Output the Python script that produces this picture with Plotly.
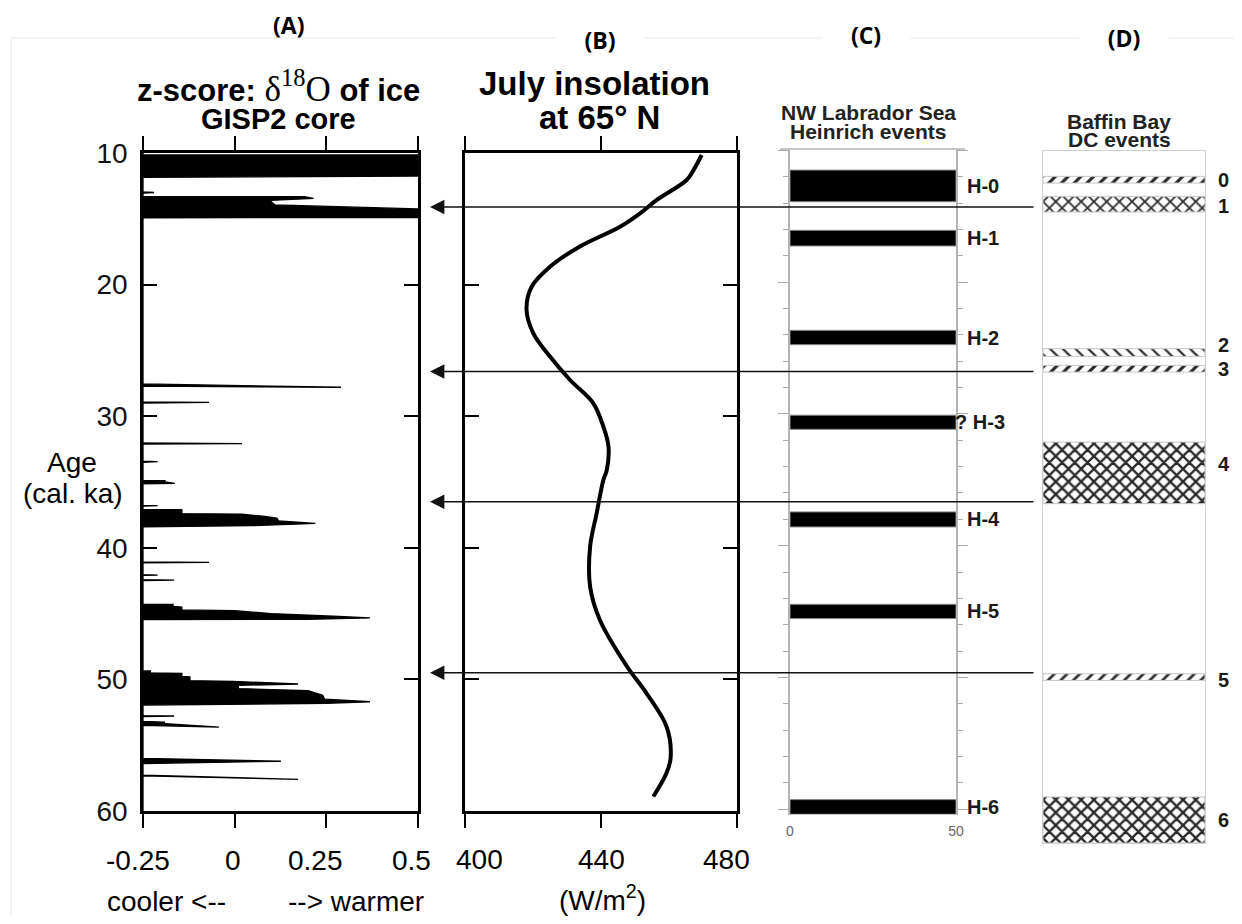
import plotly.graph_objects as go

# page offset of the plot div (browser body margin) is compensated below
OFF = 8
FW, FH = 1242 - 2 * OFF, 924 - 2 * OFF

# ---------------- data ----------------
# (A) GISP2 d18O z-score profile: age (cal. ka) vs z-score, baseline -0.25
gisp_age = [10.0, 10.15, 10.15, 11.75, 11.85,
            12.95, 13.0, 13.05,
            13.3, 13.32, 13.45, 13.55, 13.6, 13.95, 14.15, 14.25, 14.9, 14.92,
            27.55, 27.8, 27.72,
            28.92, 28.95, 29.0,
            32.02, 32.08, 32.12,
            33.42, 33.45, 33.5,
            34.88, 34.9, 35.0, 35.1, 35.15,
            36.77, 36.8, 36.84,
            37.1, 37.1, 37.4, 37.45, 37.6, 37.75, 37.95, 38.15, 38.32, 38.4,
            41.07, 41.1, 41.14,
            42.04, 42.07, 42.1,
            42.42, 42.45, 42.49,
            44.3, 44.3, 44.45, 44.5, 44.72, 44.78, 45.0, 45.2, 45.33, 45.43, 45.45,
            49.36, 49.36, 49.5, 49.55, 49.78, 49.8, 50.1, 50.15, 50.35, 50.45, 50.7,
            50.85, 51.2, 51.5, 51.7, 51.82, 51.95,
            52.75, 52.78, 52.82,
            53.2, 53.25, 53.35, 53.62, 53.5,
            56.0, 56.22, 56.4,
            57.27, 57.6, 57.33,
            60.0]
gisp_z = [-0.25, -0.25, 0.5, 0.5, -0.25,
          -0.25, -0.22, -0.25,
          -0.25, 0.19, 0.215, 0.15, 0.096, 0.11, 0.4, 0.5, 0.5, -0.25,
          -0.25, 0.29, -0.25,
          -0.25, -0.07, -0.25,
          -0.25, 0.02, -0.25,
          -0.25, -0.21, -0.25,
          -0.25, -0.19, -0.19, -0.163, -0.25,
          -0.25, -0.21, -0.25,
          -0.25, -0.144, -0.144, 0.02, 0.077, 0.115, 0.12, 0.22, 0.05, -0.25,
          -0.25, -0.07, -0.25,
          -0.25, -0.21, -0.25,
          -0.25, -0.165, -0.25,
          -0.25, -0.168, -0.168, -0.144, -0.144, 0.0, 0.1, 0.27, 0.369, 0.2, -0.25,
          -0.25, -0.23, -0.23, -0.144, -0.144, -0.122, -0.122, -0.005, 0.173, 0.01, 0.01,
          0.2, 0.24, 0.245, 0.369, 0.25, -0.25,
          -0.25, -0.165, -0.25,
          -0.25, -0.19, -0.2, -0.043, -0.25,
          -0.25, 0.126, -0.25,
          -0.25, 0.173, -0.25,
          -0.25]

# (B) July insolation at 65N (W/m2)
ins_age = [10.15, 11.3, 12.05, 13.57, 14.58, 15.6, 17.1, 18.64, 20.16, 21.93, 23.7,
           25.47, 27.25, 29.0, 30.8, 32.3, 34.1, 34.85, 37.4, 39.9, 42.96, 45.5,
           49.0, 51.06, 53.6, 55.9, 57.1, 58.9]
ins_val = [469.6, 467.2, 465.2, 456.4, 451.5, 445.6, 433.8, 425.0, 419.6, 418.1, 420.1,
           425.0, 430.9, 437.7, 440.7, 442.2, 441.7, 440.7, 438.7, 436.8, 436.8, 439.7,
           447.6, 453.4, 459.3, 460.5, 459.3, 455.4]

# (C) NW Labrador Sea Heinrich events (age range, ka)
heinrich_names = ["H-0", "H-1", "H-2", "? H-3", "H-4", "H-5", "H-6"]
heinrich_top = [11.5, 16.07, 23.66, 30.1, 37.44, 44.45, 59.27]
heinrich_bot = [13.9, 17.26, 24.75, 31.17, 38.58, 45.53, 60.38]
heinrich_value = [50, 50, 50, 50, 50, 50, 50]

# (D) Baffin Bay DC events (age range, ka)
dc_names = ["0", "1", "2", "3", "4", "5", "6"]
dc_top = [11.75, 13.27, 24.84, 26.11, 31.94, 49.54, 58.9]
dc_bot = [12.26, 14.46, 25.43, 26.62, 36.62, 50.05, 62.4]
dc_label_age = [12.0, 14.0, 24.6, 26.4, 33.6, 50.0, 60.65]
dc_pattern = ["/", "x", "\\", "/", "x", "/", "x"]
dc_solidity = [0.35, 0.35, 0.25, 0.35, 0.45, 0.3, 0.45]

# arrows linking events (age, ka)
arrow_age = [14.1, 26.6, 36.5, 49.5]

age_ticks = [10, 20, 30, 40, 50, 60]
z_ticks = [-0.25, 0, 0.25, 0.5]
z_tick_text = ["-0.25", "0", "0.25", "0.5"]
ins_ticks = [400, 440, 480]
ins_tick_text = ["400", "440", "480"]
c_ticks = [0, 50]


# ---------------- helpers (reference pixel -> paper) ----------------
def fx(px):
    return (px - OFF) / FW


def fy(py):
    return 1 - (py - OFF) / FH


FONT = "Liberation Sans, Arial, sans-serif"

fig = go.Figure()

# (A) filled profile
fig.add_trace(go.Scatter(x=gisp_z, y=gisp_age, mode="lines", fill="toself",
                         fillcolor="black", line=dict(color="black", width=1.3),
                         xaxis="x", yaxis="y", hoverinfo="skip"))
# (B) insolation curve
fig.add_trace(go.Scatter(x=ins_val, y=ins_age, mode="lines",
                         line=dict(color="black", width=4, shape="spline", smoothing=1.0),
                         xaxis="x2", yaxis="y2", hoverinfo="skip"))
# (C) Heinrich events
fig.add_trace(go.Bar(orientation="h",
                     y=[(a + b) / 2 for a, b in zip(heinrich_top, heinrich_bot)],
                     x=heinrich_value, base=0,
                     width=[b - a for a, b in zip(heinrich_top, heinrich_bot)],
                     marker=dict(color="black", line=dict(color="#888", width=1)),
                     xaxis="x3", yaxis="y3", hoverinfo="skip"))
# (D) DC events
fig.add_trace(go.Bar(orientation="h",
                     y=[(a + b) / 2 for a, b in zip(dc_top, dc_bot)],
                     x=[1] * len(dc_top), base=0,
                     width=[b - a for a, b in zip(dc_top, dc_bot)],
                     marker=dict(color="white", line=dict(color="#c8c8c8", width=1),
                                 pattern=dict(shape=dc_pattern, fgcolor="#2a2a2a",
                                              bgcolor="white", size=9,
                                              solidity=dc_solidity)),
                     xaxis="x4", yaxis="y4", hoverinfo="skip"))

blk = dict(showgrid=False, zeroline=False, automargin=False)

layout = dict(
    width=FW, height=FH, template="none",
    margin=dict(l=0, r=0, t=0, b=0),
    paper_bgcolor="white", plot_bgcolor="rgba(0,0,0,0)",
    showlegend=False, font=dict(family=FONT, color="black"),
    # panel A
    xaxis=dict(domain=[fx(143), fx(418)], range=[-0.25, 0.5], anchor="y",
               tickvals=z_ticks, ticks="outside", ticklen=14, tickwidth=2.2,
               tickcolor="black", showticklabels=False, showline=True,
               linewidth=2.5, linecolor="black", mirror="ticks", **blk),
    yaxis=dict(domain=[fy(811), fy(153)], range=[60, 10], anchor="x",
               tickvals=age_ticks, ticks="inside", ticklen=14, tickwidth=2.2,
               tickcolor="black", showline=True, linewidth=2.5, linecolor="black",
               mirror="ticks", tickfont=dict(size=28, color="#111"),
               ticklabelstandoff=7, **blk),
    # panel B
    xaxis2=dict(domain=[fx(465), fx(737)], range=[400, 480], anchor="y2",
                tickvals=ins_ticks, ticks="outside", ticklen=14, tickwidth=2.2,
                tickcolor="black", showticklabels=False, showline=True,
                linewidth=2.5, linecolor="black", mirror="ticks", **blk),
    yaxis2=dict(domain=[fy(811), fy(153)], range=[60, 10], anchor="x2",
                tickvals=age_ticks, ticks="inside", ticklen=14, tickwidth=2.2,
                tickcolor="black", showticklabels=False, showline=True,
                linewidth=2.5, linecolor="black", mirror="ticks", **blk),
    # panel C
    xaxis3=dict(domain=[fx(790), fx(956)], range=[0, 50], anchor="y3",
                tickvals=c_ticks, ticks="", showline=False,
                tickfont=dict(size=14, color="#666"), ticklabelstandoff=6, **blk),
    yaxis3=dict(domain=[fy(814.5), fy(149)], range=[60.4, 9.9], anchor="x3",
                tickvals=age_ticks, ticks="outside", ticklen=10, tickwidth=1,
                tickcolor="#aaa", showticklabels=False, showline=True,
                linewidth=1.5, linecolor="#b4b4b4", mirror="ticks",
                minor=dict(dtick=2, tick0=10, ticks="outside", ticklen=5,
                           tickcolor="#aaa", tickwidth=1), **blk),
    # panel D
    xaxis4=dict(domain=[fx(1043), fx(1205)], range=[0, 1], anchor="y4",
                showticklabels=False, ticks="", showline=True, linewidth=1.2,
                linecolor="#cfcfcf", mirror=True, **blk),
    yaxis4=dict(domain=[fy(843), fy(150.7)], range=[62.4, 9.8], anchor="x4",
                showticklabels=False, ticks="", showline=True, linewidth=1.2,
                linecolor="#cfcfcf", mirror=True, **blk),
)
fig.update_layout(**layout)

ann = []


def txt(text, x, y, size, xref="paper", yref="paper", bold=False, color="black",
        xanchor="center", yanchor="middle", xshift=0, **kw):
    ann.append(dict(text=("<b>%s</b>" % text) if bold else text, x=x, y=y,
                    xref=xref, yref=yref, showarrow=False, xanchor=xanchor,
                    yanchor=yanchor, xshift=xshift,
                    font=dict(size=size, color=color, family=kw.pop("family", FONT)), **kw))


# panel letters
txt("(A)", fx(288), fy(25), 23, bold=True, family="Open Sans, Lato, sans-serif",
    borderpad=0)
for lab, px, py in [("(B)", 600, 40), ("(C)", 866, 35), ("(D)", 1124, 38)]:
    txt(lab, fx(px), fy(py), 23, bold=True, family="Open Sans, Lato, sans-serif",
        bgcolor="white", width=86)

# panel A titles
txt("<b>z-score: </b><span style='font-family:Liberation Serif;font-size:35px'>δ<sup>18</sup>O</span><b> of ice</b>",
    fx(278), fy(87), 31, borderpad=0)
txt("GISP2 core", fx(278), fy(119), 29, bold=True, borderpad=0)
txt("Age", fx(72), fy(463), 28)
txt("(cal. ka)", fx(73), fy(493), 28)
# panel A x tick labels
for v, t, s in zip(z_ticks, z_tick_text, [-5, -2, -11, -7]):
    txt(t, v, fy(860), 28, xref="x", xshift=s)
txt("cooler &lt;--", fx(166), fy(901), 28)
txt("--&gt; warmer", fx(356), fy(901), 28)

# panel B titles
txt("July insolation", fx(594), fy(84), 33, bold=True, borderpad=0)
txt("at 65° N", fx(599), fy(118), 33, bold=True, borderpad=0)
for v, t, s in zip(ins_ticks, ins_tick_text, [14, 0, -11]):
    txt(t, v, fy(859), 28, xref="x2", xshift=s)
txt("(W/m<sup>2</sup>)", fx(602), fy(898), 28)

# panel C
txt("NW Labrador Sea", fx(868), fy(112), 21, bold=True, color="#222", borderpad=0)
txt("Heinrich events", fx(868), fy(132), 21, bold=True, color="#222", borderpad=0)
for name, a, b in zip(heinrich_names, heinrich_top, heinrich_bot):
    txt(name, 50, (a + b) / 2, 20, xref="x3", yref="y3", bold=True, color="#1a1a1a",
        xanchor="left", xshift=(-3 if name.startswith("?") else 9))

# panel D
txt("Baffin Bay", fx(1119), fy(121), 21, bold=True, color="#222", borderpad=0)
txt("DC events", fx(1119), fy(139), 21, bold=True, color="#222", borderpad=0)
for name, a in zip(dc_names, dc_label_age):
    txt(name, 1, a, 20, xref="x4", yref="y4", bold=True, color="#1a1a1a",
        xanchor="left", xshift=11)

# arrows
for a in arrow_age:
    ann.append(dict(x=fx(430), xref="paper", y=a, yref="y", ax=605, ay=0,
                    axref="pixel", ayref="pixel", text="", showarrow=True,
                    arrowhead=2, arrowsize=1.8, arrowwidth=1.6, arrowcolor="#111",
                    standoff=0))

fig.update_layout(annotations=ann)

# faint outer border of the composite and the panel C top rule
fig.add_shape(type="line", xref="paper", yref="paper", x0=fx(11), x1=1,
              y0=fy(38), y1=fy(38), line=dict(color="#ececec", width=1.2), layer="below")
fig.add_shape(type="line", xref="paper", yref="paper", x0=fx(11), x1=fx(11),
              y0=fy(38), y1=0, line=dict(color="#ececec", width=1.2), layer="below")
fig.add_shape(type="line", xref="paper", yref="paper", x0=fx(780), x1=fx(965),
              y0=fy(149), y1=fy(149), line=dict(color="#b4b4b4", width=1.5))

fig.write_html("out.html")
